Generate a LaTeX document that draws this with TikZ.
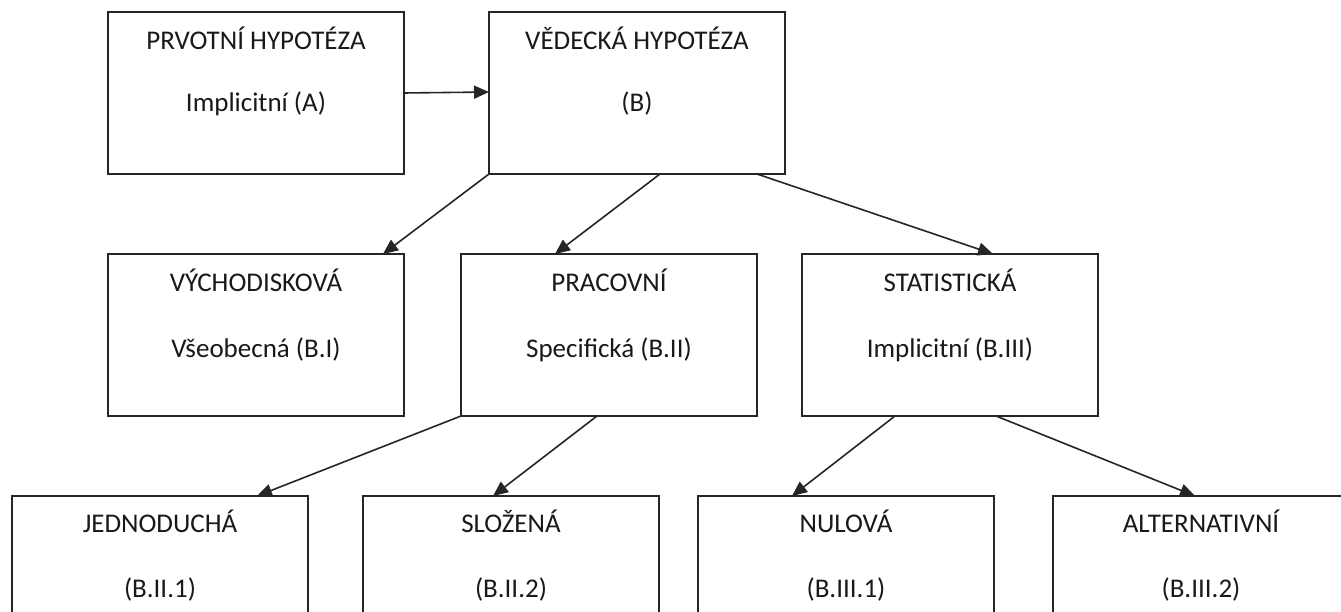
\documentclass[tikz,border=0pt]{standalone}
\usepackage{fontspec}
\setmainfont{Carlito}
\usetikzlibrary{arrows.meta}
\tikzset{
  box/.style={draw=black!85, line width=1.6pt, minimum width=296pt, minimum height=162pt, inner sep=0pt, outer sep=0pt, anchor=north west},
  txt/.style={font=\fontsize{27}{32}\selectfont, anchor=base, inner sep=0pt, text=black!90},
  arr/.style={draw=black!85, line width=1.6pt, -{Triangle[length=15pt,width=13pt]}}
}
\begin{document}
\begin{tikzpicture}[x=1pt,y=-1pt]
\useasboundingbox (0,0) rectangle (1341,612);
\fill[white] (0,0) rectangle (1341,612);
% boxes
\node[box] (prv) at (108,12) {};
\node[box] (ved) at (489,12) {};
\node[box] (vych) at (108,254) {};
\node[box] (prac) at (461,254) {};
\node[box] (stat) at (802,254) {};
\node[box] (jed) at (12,496) {};
\node[box] (slo) at (363,496) {};
\node[box] (nul) at (698,496) {};
\node[box] (alt) at (1053,496) {};
% texts
\node[txt] (prv1) at ([yshift=-38pt]prv.north) {PRVOTNÍ HYPOTÉZA};
\node[txt] (prv2) at ([yshift=-100pt]prv.north) {Implicitní (A)};
\node[txt] (ved1) at ([yshift=-38pt]ved.north) {VĚDECKÁ HYPOTÉZA};
\node[txt] (ved2) at ([yshift=-100pt]ved.north) {(B)};
\node[txt] (vych1) at ([yshift=-37pt]vych.north) {VÝCHODISKOVÁ};
\node[txt] (vych2) at ([yshift=-103pt]vych.north) {Všeobecná (B.I)};
\node[txt] (prac1) at ([yshift=-37pt]prac.north) {PRACOVNÍ};
\node[txt] (prac2) at ([yshift=-103pt]prac.north) {Specifická (B.II)};
\node[txt] (stat1) at ([yshift=-37pt]stat.north) {STATISTICKÁ};
\node[txt] (stat2) at ([yshift=-103pt]stat.north) {Implicitní (B.III)};
\node[txt] (jed1) at ([yshift=-36pt]jed.north) {JEDNODUCHÁ};
\node[txt] (jed2) at ([yshift=-101pt]jed.north) {(B.II.1)};
\node[txt] (slo1) at ([yshift=-36pt]slo.north) {SLOŽENÁ};
\node[txt] (slo2) at ([yshift=-101pt]slo.north) {(B.II.2)};
\node[txt] (nul1) at ([yshift=-36pt]nul.north) {NULOVÁ};
\node[txt] (nul2) at ([yshift=-101pt]nul.north) {(B.III.1)};
\node[txt] (alt1) at ([yshift=-36pt]alt.north) {ALTERNATIVNÍ};
\node[txt] (alt2) at ([yshift=-101pt]alt.north) {(B.III.2)};
% arrows
\draw[arr] (prv.east) -- ([yshift=1pt]ved.west);
\draw[arr] (ved.south west) -- ([xshift=275pt]vych.north west);
\draw[arr] ([xshift=171pt]ved.south west) -- ([xshift=94pt]prac.north west);
\draw[arr] ([xshift=268pt]ved.south west) -- ([xshift=191pt]stat.north west);
\draw[arr] (prac.south west) -- ([xshift=245pt]jed.north west);
\draw[arr] ([xshift=136pt]prac.south west) -- ([xshift=130pt]slo.north west);
\draw[arr] ([xshift=93pt]stat.south west) -- ([xshift=94pt]nul.north west);
\draw[arr] ([xshift=194pt]stat.south west) -- ([xshift=142pt]alt.north west);
\end{tikzpicture}
\end{document}
